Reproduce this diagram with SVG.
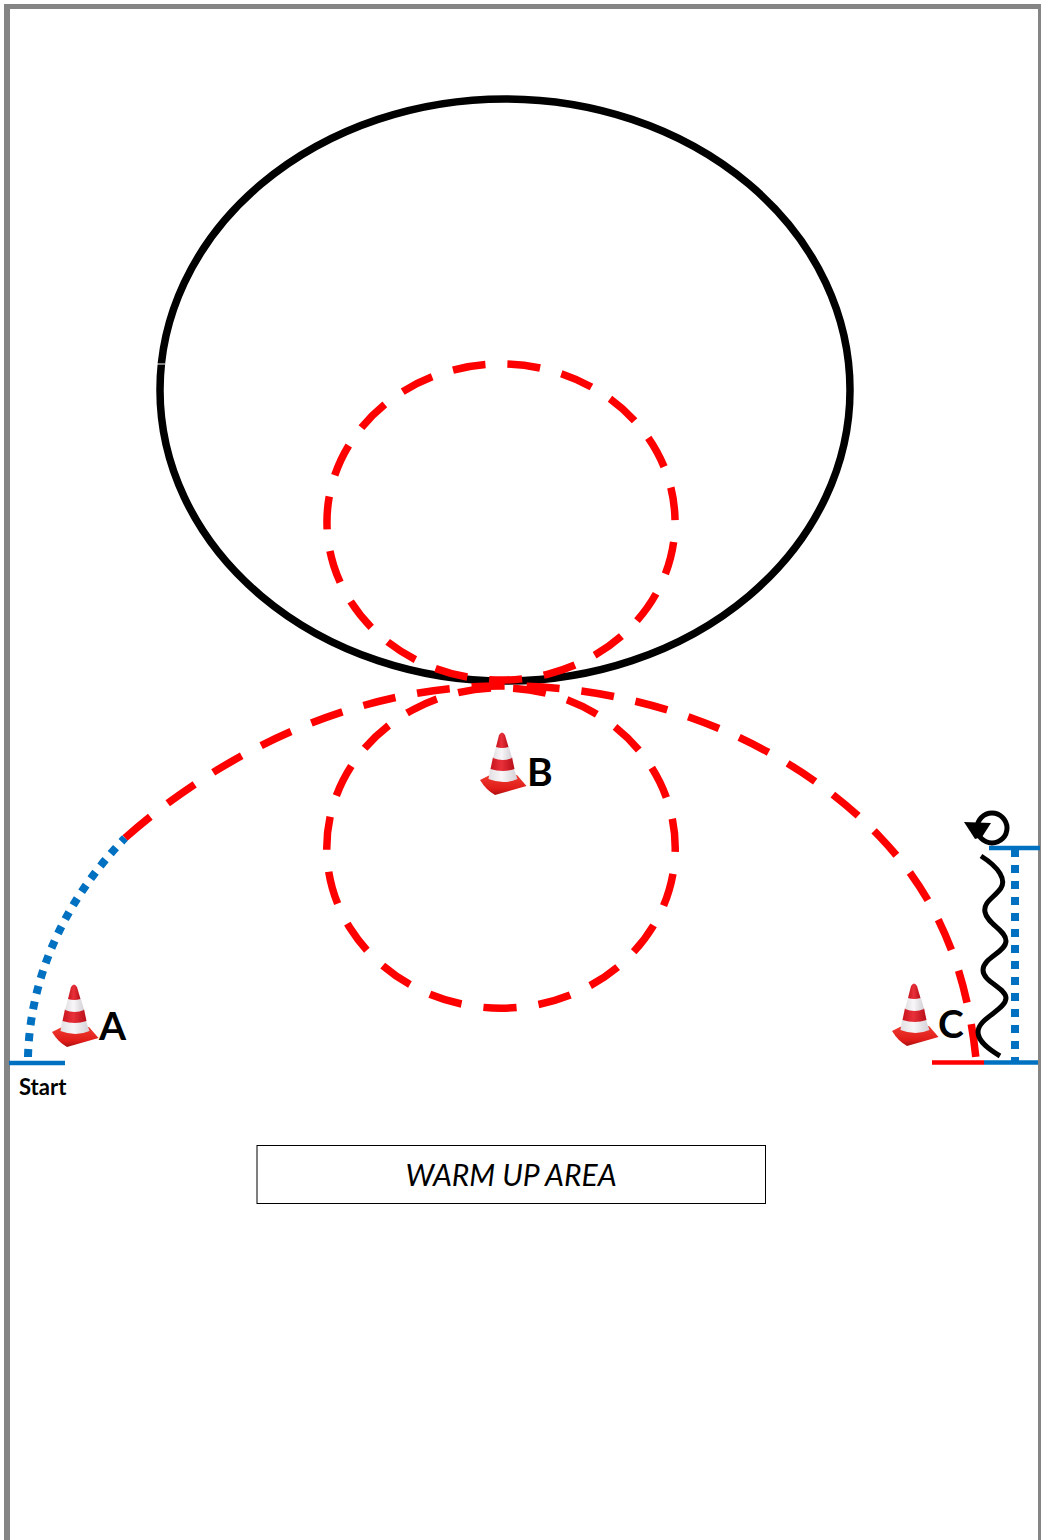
<svg xmlns="http://www.w3.org/2000/svg" width="1041" height="1540" viewBox="0 0 1041 1540">
<style>
.red{fill:none;stroke:#ff0000;stroke-width:7.5;stroke-dasharray:33 22}
.bluedot{fill:none;stroke:#0070c0;stroke-width:8;stroke-dasharray:8 8}
.blue{stroke:#0070c0;stroke-width:4.5}
.lbl{font-family:"Lato","Liberation Sans",sans-serif;font-weight:700;fill:#000}
</style>
<defs>
<linearGradient id="rg" x1="0" x2="1" y1="0" y2="0"><stop offset="0" stop-color="#c8141c"/><stop offset=".45" stop-color="#e8303a"/><stop offset="1" stop-color="#b80e18"/></linearGradient>
<linearGradient id="wg" x1="0" x2="1" y1="0" y2="0"><stop offset="0" stop-color="#e2dfe2"/><stop offset=".45" stop-color="#f8f6f8"/><stop offset="1" stop-color="#d4d0d6"/></linearGradient>
<linearGradient id="bg" x1="0" x2="0" y1="0" y2="1"><stop offset="0" stop-color="#ee3a30"/><stop offset=".7" stop-color="#e01c18"/><stop offset="1" stop-color="#a81010"/></linearGradient>
<g id="cone">
<path d="M52,1032 L62,1027 L89,1027 L98.500,1038 L67,1047 Q58,1042 52,1032 Z" fill="url(#bg)"/>
<path d="M62,1021 L86,1021 L89.500,1031 Q76,1037 60.500,1031 Z" fill="url(#wg)"/>
<path d="M65,1009 L84,1009 L86.500,1021 Q75,1025 62.500,1021 Z" fill="url(#rg)"/>
<path d="M68,999 L81,999 L84,1010 Q75,1014 65,1010 Z" fill="url(#wg)"/>
<path d="M71,987 Q74,982 77,987 L80.500,999 Q74,1001 68,999 Z" fill="url(#rg)"/>
</g>
</defs>
<rect x="0" y="0" width="1041" height="1540" fill="#fff"/>
<g id="frame" fill="#858585"><rect x="4" y="4" width="6" height="1536"/><rect x="4" y="4" width="1037" height="5"/><rect x="1038" y="4" width="3" height="1536"/></g>
<g id="track">
<ellipse cx="505" cy="390" rx="345" ry="291" fill="none" stroke="#000" stroke-width="7.5"/>
<line x1="156" y1="364" x2="165" y2="364" stroke="#fff" stroke-width="1"/>
</g>
<g id="connectors">
<path class="red" pathLength="1045" d="M453,370.100 A174,158 0 1 1 549,673.900 A174,158 0 0 1 453,370.100"/>
<path class="red" pathLength="1045" stroke-dashoffset="8" d="M414,709.200 A174,160 0 1 1 588,986.800 A174,160 0 0 1 414,709.200"/>
<path class="red" stroke-dasharray="33.700 21" d="M125,838 C235,741 370,686 500,686 C640,684 785,738 880,837 C925,884 965,950 976,1059"/>
<path class="bluedot" d="M28,1057 A476,374 0 0 1 125,838"/>
<line class="blue" x1="9" y1="1063" x2="65" y2="1063"/>
<line class="blue" x1="989" y1="848" x2="1040" y2="848"/>
<line class="blue" x1="984" y1="1062.500" x2="1038" y2="1062.500"/>
<line x1="932" y1="1062.500" x2="984" y2="1062.500" stroke="#ff0000" stroke-width="4.500"/>
<line class="bluedot" x1="1015" y1="849" x2="1015" y2="1061"/>
<path d="M981,856 C1000,868 1006,880 1001,888 C994,898 983,902 985,912 C987,924 1006,930 1006,941 C1006,952 983,958 983,970 C983,982 1006,988 1006,998 C1006,1010 978,1018 978,1032 C978,1042 990,1050 1000,1056" fill="none" stroke="#000" stroke-width="5"/>
<circle cx="992" cy="828" r="15" fill="none" stroke="#000" stroke-width="5"/>
<polygon points="964,822 991,823 982,837 975,839" fill="#000"/>
</g>
<g id="node-a"><use href="#cone"/><text class="lbl" x="99" y="1040" font-size="39" font-weight="900">A</text></g>
<g id="node-b"><use href="#cone" x="428" y="-252"/><text class="lbl" x="527" y="786" font-size="39">B</text></g>
<g id="node-c"><use href="#cone" x="840" y="-1"/><text class="lbl" x="938" y="1038" font-size="39">C</text></g>
<g id="start"><text class="lbl" x="19" y="1095" font-size="22">Start</text></g>
<g id="warmup"><rect x="257" y="1145.500" width="508.500" height="58" fill="#fff" stroke="#000" stroke-width="1"/>
<text x="511" y="1185.500" text-anchor="middle" font-family="Lato,'Liberation Sans',sans-serif" font-style="italic" font-size="30" fill="#000">WARM UP AREA</text></g>
</svg>
